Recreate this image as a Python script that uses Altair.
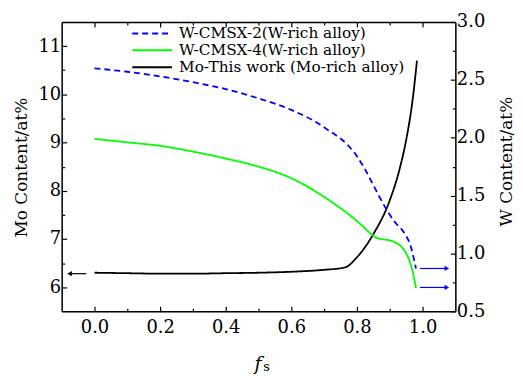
import altair as alt
import pandas as pd

FONT = "DejaVu Serif"

# ---- data ----
series_names = ["W-CMSX-2(W-rich alloy)", "W-CMSX-4(W-rich alloy)", "Mo-This work (Mo-rich alloy)"]
series_colors = ["#0000ff", "#00ff00", "#000000"]
series_dash = [[6, 4], [1, 0], [1, 0]]

# Mo-This work (left axis, Mo content)
mo_f = [0.0, 0.1, 0.2, 0.3, 0.4, 0.5, 0.6, 0.7, 0.764, 0.8, 0.85, 0.9, 0.93, 0.95, 0.97, 0.983]
mo_v = [6.30, 6.29, 6.28, 6.28, 6.29, 6.30, 6.32, 6.36, 6.41, 6.62, 7.10, 7.80, 8.45, 9.05, 9.90, 10.70]

# W-CMSX-2 (right axis, W content)
w2_f = [0.0, 0.1, 0.2, 0.3, 0.4, 0.5, 0.6, 0.7, 0.8, 0.822, 0.85, 0.886, 0.913, 0.946, 0.963, 0.973, 0.98]
w2_v = [2.60, 2.57, 2.53, 2.48, 2.42, 2.34, 2.24, 2.09, 1.84, 1.74, 1.59, 1.40, 1.28, 1.17, 1.07, 0.96, 0.87]

# W-CMSX-4 (right axis, W content)
w4_f = [0.0, 0.1, 0.2, 0.3, 0.4, 0.5, 0.6, 0.71, 0.8, 0.847, 0.856, 0.913, 0.952, 0.974, 0.98]
w4_v = [1.99, 1.96, 1.93, 1.88, 1.82, 1.75, 1.65, 1.47, 1.28, 1.16, 1.14, 1.10, 0.99, 0.79, 0.70]

# arrows (start, head, level)
arrow_mo_f0 = [-0.025]
arrow_mo_f1 = [-0.076]
arrow_mo_v = [6.28]
arrow_w_f0 = [0.992, 0.992]
arrow_w_f1 = [1.074, 1.074]
arrow_w_v = [0.87, 0.706]

x_ticks = [round(i * 0.1, 1) for i in range(0, 11)]
left_ticks = [6 + 0.5 * i for i in range(0, 11)]
right_ticks = [0.5 + 0.25 * i for i in range(0, 11)]

# ---- frames ----
mo_df = pd.DataFrame({"f": mo_f, "v": mo_v, "series": series_names[2]})
w2_df = pd.DataFrame({"f": w2_f, "w": w2_v, "series": series_names[0]})
w4_df = pd.DataFrame({"f": w4_f, "w": w4_v, "series": series_names[1]})
amo_df = pd.DataFrame({"f0": arrow_mo_f0, "f1": arrow_mo_f1, "v": arrow_mo_v})
aw_df = pd.DataFrame({"f0": arrow_w_f0, "f1": arrow_w_f1, "w": arrow_w_v})

xscale = alt.Scale(domain=[-0.1, 1.1], nice=False, zero=False)
lscale = alt.Scale(domain=[5.5, 11.5], nice=False, zero=False)
rscale = alt.Scale(domain=[0.5, 3.0], nice=False, zero=False)

common = dict(
    labelFont=FONT, labelFontSize=18, labelColor="black",
    titleFont=FONT, titleFontSize=17, titleColor="black", titleFontWeight="normal",
    domainColor="black", domainWidth=1.5, tickColor="black", tickWidth=1.2,
    grid=False,
)

x_major = "round(datum.value*10) % 2 == 0"
x_axis_bottom = alt.Axis(
    values=x_ticks, orient="bottom",
    labelExpr=f"{x_major} ? format(datum.value, '.1f') : ''",
    tickSize={"condition": {"test": x_major, "value": -5}, "value": -3},
    labelPadding=12, title="f", titleFontStyle="italic", titleFontSize=19,
    titleX=197, titleY=53, titleBaseline="middle", titleAlign="center",
    **{k: v for k, v in common.items() if k != "titleFontSize"},
)
x_axis_top = alt.Axis(
    values=x_ticks, orient="top", labels=False, title=None,
    tickSize={"condition": {"test": x_major, "value": -5}, "value": -3},
    **common,
)
l_major = "datum.value % 1 == 0"
y_axis_left = alt.Axis(
    values=left_ticks, orient="left",
    labelExpr=f"{l_major} ? format(datum.value, 'd') : ''",
    tickSize={"condition": {"test": l_major, "value": -5}, "value": -3},
    labelPadding=6, title="Mo Content/at%",
    titleX=-40, titleY=146, titleAngle=270, titleBaseline="middle", titleAlign="center",
    **common,
)
r_major = "(datum.value*2) % 1 == 0"
y_axis_right = alt.Axis(
    values=right_ticks, orient="right",
    labelExpr=f"{r_major} ? format(datum.value, '.1f') : ''",
    tickSize={"condition": {"test": r_major, "value": -5}, "value": -3},
    labelPadding=6, title="W Content/at%",
    titleX=51, titleY=140, titleAngle=270, titleBaseline="middle", titleAlign="center",
    **common,
)

legend = alt.Legend(
    orient="none", legendX=70, legendY=3, title=None,
    symbolType="stroke", symbolSize=1600, symbolStrokeWidth=2,
    labelFont=FONT, labelFontSize=15.4, labelColor="black", labelOffset=6,
    rowPadding=0, labelLimit=0, padding=0, clipHeight=17,
)
color = alt.Color("series:N", scale=alt.Scale(domain=series_names, range=series_colors), legend=legend)
dash = alt.StrokeDash("series:N", scale=alt.Scale(domain=series_names, range=series_dash), legend=legend)

# ---- left group (Mo) ----
xl = alt.X("f:Q", scale=xscale, axis=x_axis_bottom)
mo_line = alt.Chart(mo_df).mark_line(strokeWidth=1.8, interpolate="monotone").encode(
    x=xl, y=alt.Y("v:Q", scale=lscale, axis=y_axis_left), color=color, strokeDash=dash, order="f:Q")
mo_arrow = alt.Chart(amo_df).mark_rule(color="black", strokeWidth=1.2).encode(
    x=alt.X("f0:Q", scale=xscale, axis=x_axis_bottom), x2="f1:Q",
    y=alt.Y("v:Q", scale=lscale, axis=y_axis_left))
mo_head = alt.Chart(amo_df).mark_point(shape="triangle-left", filled=True, color="black", size=28, opacity=1).encode(
    x=alt.X("f1:Q", scale=xscale, axis=x_axis_bottom),
    y=alt.Y("v:Q", scale=lscale, axis=y_axis_left))
sub_s = alt.Chart(pd.DataFrame({"t": ["s"]})).mark_text(
    font=FONT, fontSize=13, color="black", align="center", baseline="alphabetic").encode(
    text="t:N", x=alt.value(206), y=alt.value(351))
left = alt.layer(mo_line, mo_arrow, mo_head, sub_s)

# ---- right group (W) ----
xr = alt.X("f:Q", scale=xscale, axis=x_axis_top)
w2_line = alt.Chart(w2_df).mark_line(strokeWidth=1.8, interpolate="monotone").encode(
    x=xr, y=alt.Y("w:Q", scale=rscale, axis=y_axis_right), color=color, strokeDash=dash, order="f:Q")
w4_line = alt.Chart(w4_df).mark_line(strokeWidth=1.8, interpolate="monotone").encode(
    x=xr, y=alt.Y("w:Q", scale=rscale, axis=y_axis_right), color=color, strokeDash=dash, order="f:Q")
w_arrow = alt.Chart(aw_df).mark_rule(color="#0000ff", strokeWidth=1.2).encode(
    x=alt.X("f0:Q", scale=xscale, axis=x_axis_top), x2="f1:Q",
    y=alt.Y("w:Q", scale=rscale, axis=y_axis_right))
w_head = alt.Chart(aw_df).mark_point(shape="triangle-right", filled=True, color="#0000ff", size=28, opacity=1).encode(
    x=alt.X("f1:Q", scale=xscale, axis=x_axis_top),
    y=alt.Y("w:Q", scale=rscale, axis=y_axis_right))
right = alt.layer(w2_line, w4_line, w_arrow, w_head)

chart = alt.layer(left, right).resolve_scale(y="independent").resolve_axis(x="independent", y="independent").properties(
    width=396, height=291,
    autosize=alt.AutoSizeParams(type="none"),
    padding={"left": 54, "top": 13, "right": 60, "bottom": 62},
).configure_view(stroke="black", strokeWidth=1.5).configure(background="white", font=FONT)

chart.save("out.html", embed_options={"renderer": "svg", "actions": False})
